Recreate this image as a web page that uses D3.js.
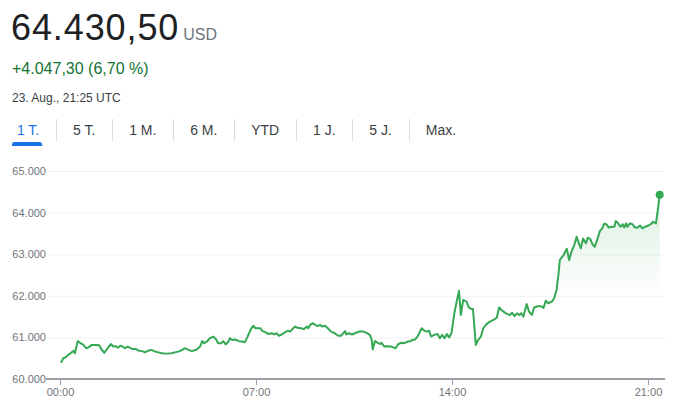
<!DOCTYPE html>
<html>
<head>
<meta charset="utf-8">
<script src="https://cdn.jsdelivr.net/npm/d3@7"></script>
<style>
  body { margin: 0; background: #fff; }
  svg { display: block; font-family: Arial, "Liberation Sans", sans-serif; }
</style>
</head>
<body>
<div id="chart"></div>
<script>
// header texts
var priceLabel = "64.430,50";
var currency = "USD";
var changeLabel = "+4.047,30 (6,70 %)";
var dateLabel = "23. Aug., 21:25 UTC";
var tabLabels = ["1 T.", "5 T.", "1 M.", "6 M.", "YTD", "1 J.", "5 J.", "Max."];

// minutes since 00:00 (UTC)
var times = [
  2, 7, 12, 18, 24, 29, 32, 38, 43, 50,
  56, 61, 68, 75, 84, 89, 95, 102, 109, 114,
  119, 124, 129, 134, 139, 145, 150, 156, 163, 169,
  176, 182, 189, 196, 204, 211, 218, 229, 239, 246,
  257, 268, 275, 283, 293, 300, 305, 309, 316, 321,
  329, 334, 339, 345, 350, 355, 361, 364, 369, 375,
  384, 391, 396, 402, 409, 414, 419, 429, 434, 441,
  446, 454, 459, 464, 469, 475, 482, 488, 493, 498,
  504, 509, 516, 523, 529, 532, 536, 541, 546, 552,
  557, 562, 568, 574, 581, 589, 596, 602, 607, 611,
  614, 619, 626, 632, 641, 650, 657, 664, 668, 670,
  675, 681, 686, 689, 695, 702, 709, 714, 719, 725,
  732, 738, 745, 750, 755, 761, 766, 769, 775, 781,
  786, 791, 795, 802, 809, 814, 819, 824, 829, 834,
  839, 845, 850, 855, 859, 864, 871, 876, 882, 885,
  891, 896, 902, 907, 914, 921, 929, 936, 941, 946,
  954, 959, 964, 969, 974, 979, 984, 988, 993, 1000,
  1005, 1011, 1016, 1024, 1031, 1036, 1041, 1046, 1054, 1059,
  1064, 1068, 1071, 1079, 1086, 1091, 1096, 1102, 1107, 1112,
  1116, 1121, 1127, 1131, 1136, 1141, 1146, 1152, 1157, 1162,
  1166, 1171, 1176, 1182, 1188, 1191, 1196, 1201, 1206, 1209,
  1213, 1216, 1221, 1227, 1232, 1238, 1243, 1248, 1254, 1261,
  1268, 1271, 1277, 1281, 1285
];

var prices = [
  60390, 60500, 60520, 60580, 60630, 60680, 60620, 60910, 60870, 60820,
  60740, 60760, 60820, 60820, 60810, 60710, 60630, 60740, 60840, 60780,
  60790, 60750, 60800, 60780, 60740, 60780, 60750, 60720, 60720, 60680,
  60670, 60640, 60680, 60700, 60660, 60640, 60620, 60610, 60620, 60640,
  60670, 60740, 60700, 60670, 60710, 60780, 60910, 60860, 60910, 60980,
  61020, 60960, 60860, 60860, 60910, 60830, 60900, 60980, 60940, 60950,
  60910, 60900, 60880, 61020, 61200, 61280, 61220, 61220, 61150, 61120,
  61080, 61100, 61070, 61100, 61040, 61070, 61120, 61160, 61140, 61200,
  61260, 61230, 61220, 61200, 61260, 61220, 61300, 61340, 61310, 61270,
  61300, 61260, 61280, 61220, 61140, 61100, 61040, 61040, 61100, 61150,
  61070, 61100, 61070, 61100, 61140, 61140, 61110, 61060, 60940, 60710,
  60910, 60870, 60840, 60870, 60780, 60790, 60780, 60760, 60740, 60840,
  60870, 60860, 60900, 60900, 60940, 60950, 61020, 61080, 61220, 61160,
  61140, 61160, 61020, 61060, 61080, 60980, 61060, 60980, 61080, 61000,
  61110, 61580, 61860, 62120, 61540, 61900, 61860, 61720, 61680, 61680,
  60820, 60940, 61020, 61220, 61320, 61380, 61420, 61480, 61720, 61660,
  61590, 61560, 61540, 61590, 61510, 61580, 61540, 61580, 61500, 61800,
  61620, 61540, 61720, 61750, 61750, 61710, 61880, 61820, 61860, 61940,
  62140, 62500, 62860, 62980, 63130, 62860, 63060, 63220, 63420, 63260,
  63140, 63380, 63260, 63400, 63370, 63240, 63180, 63380, 63560, 63620,
  63730, 63720, 63640, 63660, 63660, 63800, 63740, 63660, 63720, 63640,
  63740, 63660, 63740, 63720, 63640, 63640, 63690, 63620, 63660, 63690,
  63740, 63780, 63740, 64060, 64430.5
];

var yTicks = [60000, 61000, 62000, 63000, 64000, 65000];
var xTicks = [0, 420, 840, 1260];
var xTickLabels = ["00:00", "07:00", "14:00", "21:00"];

var data = times.map(function (t, i) { return { t: t, v: prices[i] }; });

var width = 685, height = 409;
var de = d3.formatLocale({ decimal: ",", thousands: ".", grouping: [3], currency: ["", ""] });
var fmt = de.format(",.0f");

var svg = d3.select("#chart").append("svg")
  .attr("width", width).attr("height", height);

// header
var big = svg.append("text").attr("x", 11).attr("y", 40)
  .attr("font-size", 36).attr("letter-spacing", 0.9)
  .attr("fill", "#202124").text(priceLabel);
var bigW = big.node().getComputedTextLength();
svg.append("text").attr("x", 11 + bigW + 4).attr("y", 40)
  .attr("font-size", 16).attr("fill", "#70757a").text(currency);
svg.append("text").attr("x", 12).attr("y", 74)
  .attr("font-size", 16).attr("fill", "#137333").text(changeLabel);
svg.append("text").attr("x", 12).attr("y", 102)
  .attr("font-size", 12).attr("fill", "#3c4043").text(dateLabel);

// tabs
var tabPad = 16.9, cursor = 0;
var tabs = svg.append("g").attr("class", "tabs");
tabLabels.forEach(function (lab, i) {
  var t = tabs.append("text").attr("y", 135).attr("font-size", 14)
    .attr("fill", i === 0 ? "#1a73e8" : "#3c4043").text(lab);
  var w = t.node().getComputedTextLength();
  t.attr("x", cursor + tabPad);
  if (i === 0) {
    var x0 = cursor + tabPad - 5, x1 = cursor + tabPad + w + 3, r = 3;
    tabs.append("path")
      .attr("d", "M" + x0 + ",146 L" + x0 + "," + (142 + r) +
        " Q" + x0 + ",142 " + (x0 + r) + ",142 L" + (x1 - r) + ",142 Q" + x1 + ",142 " + x1 + "," + (142 + r) +
        " L" + x1 + ",146 Z")
      .attr("fill", "#1a73e8");
  }
  cursor += tabPad * 2 + w;
  if (i < tabLabels.length - 1) {
    tabs.append("line").attr("x1", Math.round(cursor) + 0.5).attr("x2", Math.round(cursor) + 0.5)
      .attr("y1", 119).attr("y2", 141).attr("stroke", "#dadce0");
  }
});

// chart
var x = d3.scaleLinear().domain([0, 1260]).range([60, 648]);
var y = d3.scaleLinear().domain([60000, 65000]).range([379, 171]);

var yAxis = svg.append("g").attr("transform", "translate(48,0)")
  .call(d3.axisLeft(y).tickValues(yTicks).tickSize(-617).tickPadding(2).tickFormat(fmt));
yAxis.select(".domain").remove();
yAxis.selectAll(".tick line").attr("stroke", "#f1f3f4");
yAxis.selectAll(".tick text").attr("fill", "#70757a").attr("font-size", 11)
  .attr("font-family", "Arial, 'Liberation Sans', sans-serif");

svg.append("line").attr("x1", 46).attr("x2", 665)
  .attr("y1", y(60000)).attr("y2", y(60000))
  .attr("stroke", "#9aa0a6").attr("stroke-width", 2);

var xAxis = svg.append("g").attr("transform", "translate(0," + y(60000) + ")")
  .call(d3.axisBottom(x).tickValues(xTicks).tickSize(6).tickPadding(3)
    .tickFormat(function (d, i) { return xTickLabels[i]; }));
xAxis.select(".domain").remove();
xAxis.selectAll(".tick line").attr("stroke", "#9aa0a6");
xAxis.selectAll(".tick text").attr("fill", "#70757a").attr("font-size", 11)
  .attr("font-family", "Arial, 'Liberation Sans', sans-serif");

// gradient fill under the line
var grad = svg.append("defs").append("linearGradient").attr("id", "fillGrad")
  .attr("gradientUnits", "userSpaceOnUse")
  .attr("x1", 0).attr("x2", 0).attr("y1", y(64430)).attr("y2", y(62000));
grad.append("stop").attr("offset", 0).attr("stop-color", "#34a853").attr("stop-opacity", 0.18);
grad.append("stop").attr("offset", 1).attr("stop-color", "#34a853").attr("stop-opacity", 0);

svg.append("path").datum(data)
  .attr("fill", "url(#fillGrad)")
  .attr("d", d3.area().x(function (d) { return x(d.t); })
    .y0(y(60000)).y1(function (d) { return y(d.v); }));

svg.append("path").datum(data)
  .attr("fill", "none").attr("stroke", "#34a853").attr("stroke-width", 2)
  .attr("stroke-linejoin", "round")
  .attr("d", d3.line().x(function (d) { return x(d.t); }).y(function (d) { return y(d.v); }));

var last = data[data.length - 1];
svg.append("circle").attr("cx", x(last.t)).attr("cy", y(last.v)).attr("r", 4)
  .attr("fill", "#34a853");
</script>
</body>
</html>
